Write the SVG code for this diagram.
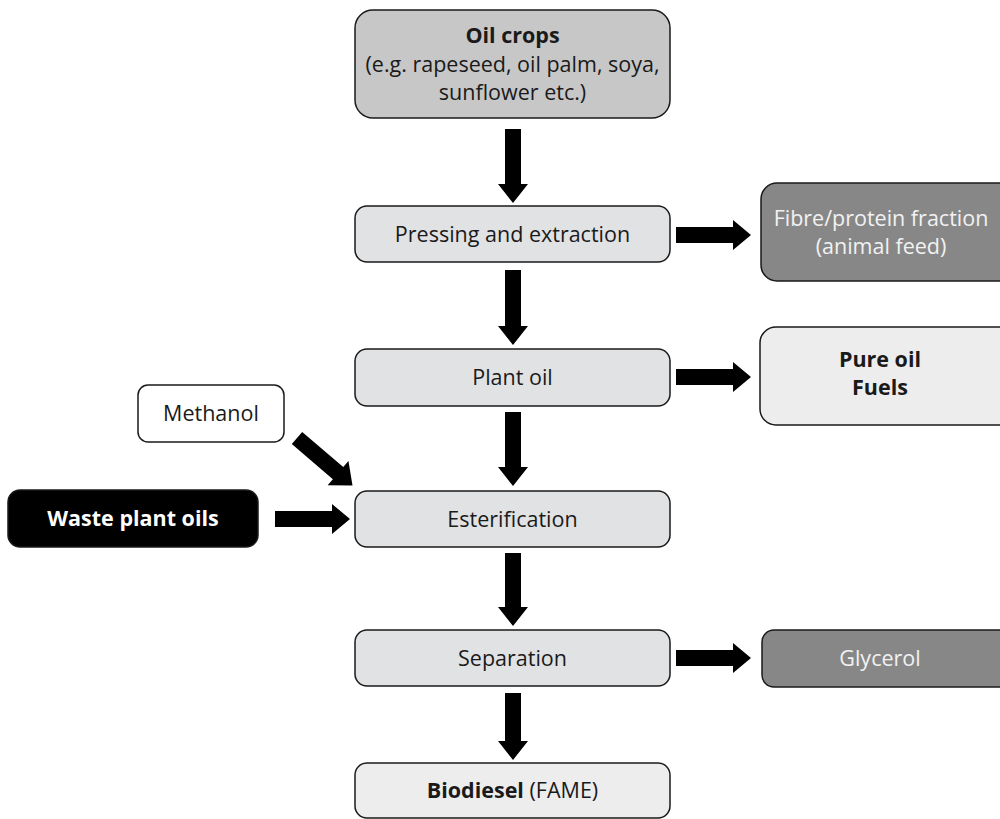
<svg xmlns="http://www.w3.org/2000/svg" width="1000" height="819" viewBox="0 0 1000 819">
<style>
.box{stroke:#1a1a1a;stroke-width:1.5}
.mid{fill:#c7c7c7}
.light{fill:#e1e2e4}
.pale{fill:#ededee}
.dark{fill:#878787}
.white{fill:#ffffff}
.black{fill:#000000}
text{font-family:"Open Sans","Noto Sans",sans-serif;font-size:21.5px;text-anchor:middle;fill:#1a1a1a}
.b{font-weight:bold}
.inv{fill:#f2f2f2}
.arrow{fill:#000}
</style>
<rect width="1000" height="819" fill="#fff"/>
<g id="oil-crops">
<rect class="box mid" x="355" y="10" width="315" height="108" rx="18"/>
<text x="512.5" y="43" class="b">Oil crops</text>
<text x="512.5" y="72">(e.g. rapeseed, oil palm, soya,</text>
<text x="512.5" y="100">sunflower etc.)</text>
</g>
<g id="pressing">
<rect class="box light" x="355" y="206" width="315" height="56" rx="12"/>
<text x="512.5" y="242">Pressing and extraction</text>
</g>
<g id="fibre">
<rect class="box dark" x="761" y="183" width="260" height="98" rx="16"/>
<text x="881" y="226" class="inv">Fibre/protein fraction</text>
<text x="881" y="254" class="inv">(animal feed)</text>
</g>
<g id="plant-oil">
<rect class="box light" x="355" y="349" width="315" height="57" rx="12"/>
<text x="512.5" y="385">Plant oil</text>
</g>
<g id="pure-oil">
<rect class="box pale" x="760" y="327" width="260" height="98" rx="16"/>
<text x="880" y="367" class="b">Pure oil</text>
<text x="880" y="395" class="b">Fuels</text>
</g>
<g id="methanol">
<rect class="box white" x="138" y="385" width="146" height="57" rx="10"/>
<text x="211" y="421">Methanol</text>
</g>
<g id="waste">
<rect class="box black" x="8" y="490" width="250" height="57" rx="12"/>
<text x="133" y="526" class="b" style="fill:#fff">Waste plant oils</text>
</g>
<g id="esterification">
<rect class="box light" x="355" y="491" width="315" height="56" rx="12"/>
<text x="512.5" y="527">Esterification</text>
</g>
<g id="separation">
<rect class="box light" x="355" y="630" width="315" height="56" rx="12"/>
<text x="512.5" y="666">Separation</text>
</g>
<g id="glycerol">
<rect class="box dark" x="762" y="630" width="260" height="57" rx="12"/>
<text x="880" y="666" class="inv">Glycerol</text>
</g>
<g id="biodiesel">
<rect class="box pale" x="355" y="763" width="315" height="55" rx="12"/>
<text x="512.5" y="798"><tspan class="b">Biodiesel</tspan> (FAME)</text>
</g>
<g id="connectors">
<polygon class="arrow" points="505,129 521,129 521,184 528,184 513,203 498,184 505,184"/>
<polygon class="arrow" points="505,270 521,270 521,326 528,326 513,345 498,326 505,326"/>
<polygon class="arrow" points="505,412 521,412 521,467 528,467 513,486 498,467 505,467"/>
<polygon class="arrow" points="505,553 521,553 521,607 528,607 513,626 498,607 505,607"/>
<polygon class="arrow" points="505,693 521,693 521,741 528,741 513,760 498,741 505,741"/>
<polygon class="arrow" points="676,227 733,227 733,220 751,235 733,250 733,243 676,243"/>
<polygon class="arrow" points="676,369 733,369 733,362 751,377 733,392 733,385 676,385"/>
<polygon class="arrow" points="676,650 733,650 733,643 751,658 733,673 733,666 676,666"/>
<polygon class="arrow" points="275,511 332,511 332,504 350,519 332,534 332,527 275,527"/>
<polygon class="arrow" transform="translate(297,438) rotate(40.5)" points="0,-8 54,-8 54,-16 73,0 54,16 54,8 0,8"/>
</g>
</svg>
